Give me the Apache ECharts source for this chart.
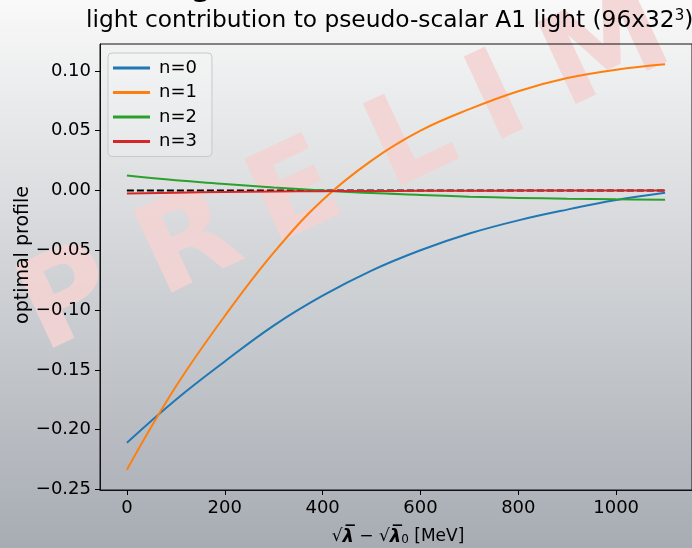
<!DOCTYPE html>
<html>
<head>
<meta charset="utf-8">
<script src="https://cdn.jsdelivr.net/npm/echarts@6/dist/echarts.min.js"></script>
<style>
  html, body { margin: 0; padding: 0; }
  #chart { width: 692px; height: 548px; }
</style>
</head>
<body>
<div id="chart"></div>
<script>
// sqrt(lambda) - sqrt(lambda_0) in MeV
const energies = [0, 100, 200, 300, 400, 500, 600, 700, 800, 900, 1000, 1100];
// optimal profile coefficients per operator
const profileN0 = [-0.211, -0.175, -0.143, -0.113, -0.088, -0.067, -0.050, -0.036, -0.025, -0.016, -0.008, -0.002];
const profileN1 = [-0.2335, -0.164, -0.105, -0.052, -0.008, 0.025, 0.050, 0.068, 0.083, 0.094, 0.101, 0.1055];
const profileN2 = [0.0125, 0.0085, 0.0055, 0.0025, 0.0000, -0.0022, -0.0037, -0.0052, -0.0062, -0.0069, -0.0074, -0.0078];
const profileN3 = [-0.0025, -0.0018, -0.0013, -0.0009, -0.0006, -0.0004, -0.0003, -0.0002, -0.0001, -0.0001, 0.0, 0.0];
const seriesNames = ['n=0', 'n=1', 'n=2', 'n=3'];
const seriesColors = ['#1f77b4', '#ff7f0e', '#2ca02c', '#d62728'];
// dashed reference at zero
const refX = [0, 1100];
const refY = [0, 0];
// tick labels
const xTicks = [0, 200, 400, 600, 800, 1000];
const yTicks = [-0.25, -0.20, -0.15, -0.10, -0.05, 0.00, 0.05, 0.10];

const FONT = '"DejaVu Sans", sans-serif';
const pairs = (xs, ys) => xs.map((x, i) => [x, ys[i]]);
const profiles = [profileN0, profileN1, profileN2, profileN3];

// spaced-out watermark: glyphs and their spacing along the slanted baseline
const WM_TEXT = 'PRELIMINARY';
const WM_STEP = [0, 133, 250, 378, 473, 593, 705, 810, 925, 1045, 1160];

const chart = echarts.init(document.getElementById('chart'), null, { renderer: 'canvas' });

const lineSeries = profiles.map((ys, i) => ({
  name: seriesNames[i],
  type: 'line',
  data: pairs(energies, ys),
  smooth: 0.4,
  symbol: 'none',
  color: seriesColors[i],
  lineStyle: { width: 2, color: seriesColors[i] },
  z: 3 + i
}));

const axisCommon = {
  type: 'value',
  axisLine: { show: true, onZero: false, lineStyle: { color: '#111', width: 1 } },
  splitLine: { show: false }
};

const watermark = {
  type: 'group', z: -10, silent: true,
  x: 62, y: 286, rotation: 25 * Math.PI / 180,
  children: WM_TEXT.split('').map((ch, i) => ({
    type: 'text', silent: true, z: -10,
    x: WM_STEP[i], y: 20,
    style: {
      text: ch,
      font: 'bold 124px "DejaVu Sans"',
      fill: 'rgba(243,211,211,0.9)',
      align: 'center', verticalAlign: 'middle'
    }
  }))
};

chart.setOption({
  animation: false,
  backgroundColor: {
    type: 'linear', x: 0, y: 0, x2: 0, y2: 1,
    colorStops: [
      { offset: 0, color: '#f9f9f9' },
      { offset: 1, color: '#a7acb3' }
    ]
  },
  grid: {
    left: 100, top: 44, width: 594, height: 446,
    show: true, borderColor: '#111', borderWidth: 1,
    backgroundColor: 'transparent'
  },
  legend: {
    data: seriesNames,
    orient: 'vertical',
    left: 108, top: 53,
    icon: 'rect',
    itemWidth: 37, itemHeight: 3,
    itemGap: 4.5,
    padding: [5, 15, 5, 5],
    backgroundColor: 'rgba(255,255,255,0.18)',
    borderColor: '#c9c9c9', borderWidth: 1, borderRadius: 4,
    textStyle: { fontFamily: FONT, fontSize: 18, color: '#000', lineHeight: 20, padding: [0, 0, 0, 4] }
  },
  xAxis: Object.assign({}, axisCommon, {
    min: -55, max: 1155,
    axisTick: { show: true, length: 5, lineStyle: { color: '#000', width: 1 }, customValues: xTicks },
    axisLabel: {
      customValues: xTicks, fontFamily: FONT, fontSize: 18, color: '#000', margin: 9,
      formatter: v => String(Math.round(v))
    }
  }),
  yAxis: Object.assign({}, axisCommon, {
    min: -0.2505, max: 0.1225,
    axisTick: { show: true, length: 5, lineStyle: { color: '#000', width: 1 }, customValues: yTicks },
    axisLabel: {
      customValues: yTicks, fontFamily: FONT, fontSize: 18, color: '#000', margin: 9,
      formatter: v => (v < -1e-9 ? '\u2212' : '') + Math.abs(v).toFixed(2)
    }
  }),
  graphic: [
    watermark,
    {
      type: 'text', silent: true, x: 190, y: -14,
      style: { text: 'g', font: '36px "DejaVu Sans"', fill: '#000', align: 'left', verticalAlign: 'middle' }
    },
    {
      type: 'text', silent: true, x: 86, y: 20.5,
      style: {
        text: 'light contribution to pseudo-scalar A1 light (96x32{sup|3})',
        font: '23.3px "DejaVu Sans"', fill: '#000', align: 'left', verticalAlign: 'middle',
        rich: { sup: { fontSize: 15, fontFamily: 'DejaVu Sans', verticalAlign: 'top', fill: '#000' } }
      }
    },
    {
      type: 'text', silent: true, x: 23, y: 255, rotation: Math.PI / 2,
      style: { text: 'optimal profile', font: '19px "DejaVu Sans"', fill: '#000', align: 'center', verticalAlign: 'middle' }
    },
    {
      type: 'text', silent: true, x: 398, y: 537,
      style: {
        text: '{n|\u221a}{l|\u03bb\u0305}{n| \u2212 \u221a}{l|\u03bb\u0305}{s|0}{n| [MeV]}',
        font: '17px "DejaVu Sans"', fill: '#000', align: 'center', verticalAlign: 'middle',
        rich: {
          n: { fontSize: 17, fontFamily: 'DejaVu Sans', fill: '#000' },
          l: { fontSize: 18, fontFamily: 'DejaVu Sans', fontStyle: 'italic', fontWeight: 'bold', fill: '#000' },
          s: { fontSize: 12, fontFamily: 'DejaVu Sans', fill: '#000', verticalAlign: 'bottom' }
        }
      }
    }
  ],
  series: [
    {
      name: 'reference',
      type: 'line',
      data: pairs(refX, refY),
      symbol: 'none',
      color: '#000',
      lineStyle: { width: 2, color: '#000', type: [7, 3] },
      z: 2
    },
    ...lineSeries
  ]
});
</script>
</body>
</html>
